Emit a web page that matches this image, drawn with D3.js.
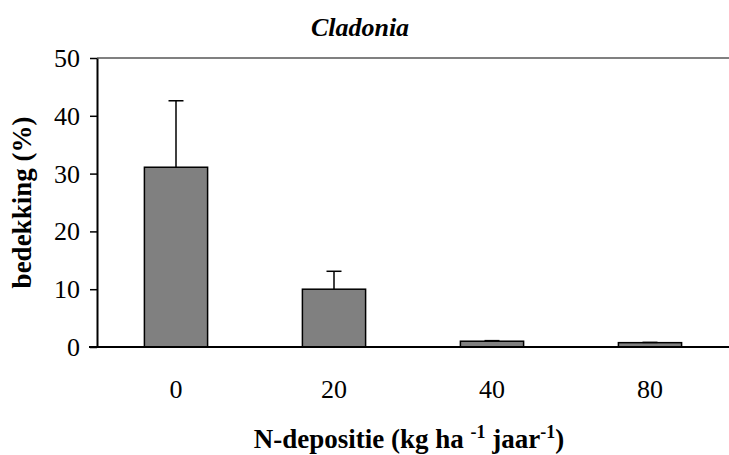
<!DOCTYPE html>
<html>
<head>
<meta charset="utf-8">
<script src="https://cdn.jsdelivr.net/npm/d3@7"></script>
<style>
  body { margin: 0; background: #fff; }
  text { font-family: "Liberation Serif", "Times New Roman", serif; }
</style>
</head>
<body>
<div id="chart"></div>
<script>
// data
var categories = ["0", "20", "40", "80"];
var coverValues = [31.1, 10.0, 1.0, 0.75];
var errorValues = [11.5, 3.1, 0.1, 0.05];
var yTicks = [0, 10, 20, 30, 40, 50];

var w = 729, h = 455;
var mLeft = 97, mRight = 729, mTop = 58, mBottom = 347;

var svg = d3.select("#chart").append("svg")
    .attr("width", w)
    .attr("height", h);

var x = d3.scaleBand()
    .domain(categories)
    .range([mLeft, mRight])
    .paddingInner(0.6)
    .paddingOuter(0.3);

var y = d3.scaleLinear()
    .domain([0, 50])
    .range([mBottom, mTop]);

// grey line at the top of the plot area
svg.append("line")
    .attr("x1", mLeft).attr("x2", mRight)
    .attr("y1", y(50)).attr("y2", y(50))
    .attr("stroke", "#808080")
    .attr("stroke-width", 2);

// bars
svg.selectAll("rect.bar")
    .data(coverValues)
    .enter()
    .append("rect")
    .attr("class", "bar")
    .attr("x", function(d, i) { return x(categories[i]); })
    .attr("y", function(d) { return y(d); })
    .attr("width", x.bandwidth())
    .attr("height", function(d) { return y(0) - y(d); })
    .attr("fill", "#808080")
    .attr("stroke", "#000")
    .attr("stroke-width", 1.5);

// error bars (upper only)
var err = svg.selectAll("g.err")
    .data(coverValues)
    .enter()
    .append("g")
    .attr("class", "err");

err.append("line")
    .attr("x1", function(d, i) { return x(categories[i]) + x.bandwidth() / 2; })
    .attr("x2", function(d, i) { return x(categories[i]) + x.bandwidth() / 2; })
    .attr("y1", function(d) { return y(d); })
    .attr("y2", function(d, i) { return y(d + errorValues[i]); })
    .attr("stroke", "#000")
    .attr("stroke-width", 1.5);

err.append("line")
    .attr("x1", function(d, i) { return x(categories[i]) + x.bandwidth() / 2 - 7.5; })
    .attr("x2", function(d, i) { return x(categories[i]) + x.bandwidth() / 2 + 7.5; })
    .attr("y1", function(d, i) { return y(d + errorValues[i]); })
    .attr("y2", function(d, i) { return y(d + errorValues[i]); })
    .attr("stroke", "#000")
    .attr("stroke-width", 1.5);

// y axis
var yAxis = svg.append("g")
    .attr("transform", "translate(" + mLeft + ",0)")
    .call(d3.axisLeft(y).tickValues(yTicks).tickSize(7).tickSizeOuter(0).tickPadding(10));
yAxis.select(".domain").attr("stroke", "#000").attr("stroke-width", 2);
yAxis.selectAll(".tick line").attr("stroke", "#000").attr("stroke-width", 1.5);
yAxis.selectAll(".tick text")
    .style("font-family", "Liberation Serif, Times New Roman, serif")
    .style("font-size", "26px")
    .attr("fill", "#000")
    .attr("dy", "0.33em");

// x axis line
svg.append("line")
    .attr("x1", mLeft - 8).attr("x2", mRight)
    .attr("y1", y(0)).attr("y2", y(0))
    .attr("stroke", "#000")
    .attr("stroke-width", 2);

// x tick labels
svg.selectAll("text.xlab")
    .data(categories)
    .enter()
    .append("text")
    .attr("class", "xlab")
    .attr("x", function(d) { return x(d) + x.bandwidth() / 2; })
    .attr("y", 398)
    .attr("text-anchor", "middle")
    .style("font-size", "26px")
    .text(function(d) { return d; });

// title
svg.append("text")
    .attr("x", 360)
    .attr("y", 36)
    .attr("text-anchor", "middle")
    .style("font-size", "26px")
    .style("font-weight", "bold")
    .style("font-style", "italic")
    .text("Cladonia");

// y label
svg.append("text")
    .attr("transform", "translate(31," + ((mTop + mBottom) / 2) + ") rotate(-90)")
    .attr("text-anchor", "middle")
    .style("font-size", "27px")
    .style("font-weight", "bold")
    .text("bedekking (%)");

// x label with superscripts
var xl = svg.append("text")
    .attr("x", 409)
    .attr("y", 448)
    .attr("text-anchor", "middle")
    .style("font-size", "27px")
    .style("font-weight", "bold");
xl.append("tspan").text("N-depositie (kg ha ");
xl.append("tspan").attr("dy", -10).style("font-size", "18px").text("-1");
xl.append("tspan").attr("dy", 10).text(" jaar");
xl.append("tspan").attr("dy", -10).style("font-size", "18px").text("-1");
xl.append("tspan").attr("dy", 10).text(")");
</script>
</body>
</html>
